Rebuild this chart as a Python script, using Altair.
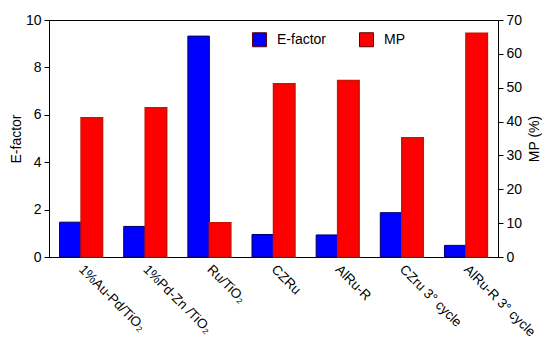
import altair as alt
import pandas as pd

categories = ["1%Au-Pd/TiO₂", "1%Pd-Zn /TiO₂", "Ru/TiO₂", "CZRu", "AlRu-R",
              "CZru 3° cycle", "AlRu-R 3° cycle"]
efactor = [1.47, 1.29, 9.32, 0.95, 0.93, 1.87, 0.49]
mp = [41.1, 44.1, 10.1, 51.2, 52.1, 35.2, 66.1]
series = ["E-factor", "MP"]
colors = ["#0000ff", "#ff0000"]

df = pd.DataFrame({"cat": categories, "E": efactor, "MP": mp})

FONT = "Liberation Sans"

x_enc = alt.X(
    "cat:N", sort=categories,
    scale=alt.Scale(paddingInner=0.33, paddingOuter=0.165),
    axis=alt.Axis(title=None, labelAngle=45, labelAlign="left", labelBaseline="top",
                  ticks=False, labelPadding=5, labelOffset=5, labelFontSize=13.5),
)
xoff = alt.XOffset("series:N", scale=alt.Scale(domain=series, paddingInner=0))
color = alt.Color(
    "series:N",
    scale=alt.Scale(domain=series, range=colors),
    legend=alt.Legend(
        title=None, orient="none", direction="horizontal",
        legendX=203, legendY=12, symbolType="square", symbolSize=196,
        symbolStrokeWidth=1, symbolStrokeColor="#5a0000", labelFontSize=14,
        labelOffset=10, columnPadding=30, padding=0, labelFont=FONT,
    ),
)

left = alt.Chart(df).transform_calculate(series="'E-factor'").mark_bar(
    stroke="#000060", strokeWidth=1
).encode(
    x=x_enc, xOffset=xoff, color=color,
    y=alt.Y("E:Q", scale=alt.Scale(domain=[0, 10], nice=False),
            axis=alt.Axis(title="E-factor", values=[0, 2, 4, 6, 8, 10], grid=False,
                          orient="left", ticks=True, tickSize=5, titlePadding=2)),
)

right = alt.Chart(df).transform_calculate(series="'MP'").mark_bar(
    stroke="#c81400", strokeWidth=1.5
).encode(
    x=x_enc, xOffset=xoff, color=color,
    y=alt.Y("MP:Q", scale=alt.Scale(domain=[0, 70], nice=False),
            axis=alt.Axis(title="MP (%)", values=[0, 10, 20, 30, 40, 50, 60, 70], grid=False,
                          orient="right", ticks=True, tickSize=5, titleAngle=270,
                          titleBaseline="top", titlePadding=6)),
)

chart = alt.layer(left, right).resolve_scale(y="independent").properties(
    width=449, height=237,
    background="white",
    autosize=alt.AutoSizeParams(type="none"),
    padding={"left": 41, "top": 12, "right": 44, "bottom": 88},
).configure_view(stroke="black", strokeWidth=1).configure_axis(
    domainColor="black", tickColor="black", labelColor="black", titleColor="black",
    labelFont=FONT, titleFont=FONT, labelFontSize=14, titleFontSize=14,
    titleFontWeight="normal", tickSize=5, labelPadding=3,
)

chart.save("out.html", embed_options={"renderer": "svg", "actions": False})
